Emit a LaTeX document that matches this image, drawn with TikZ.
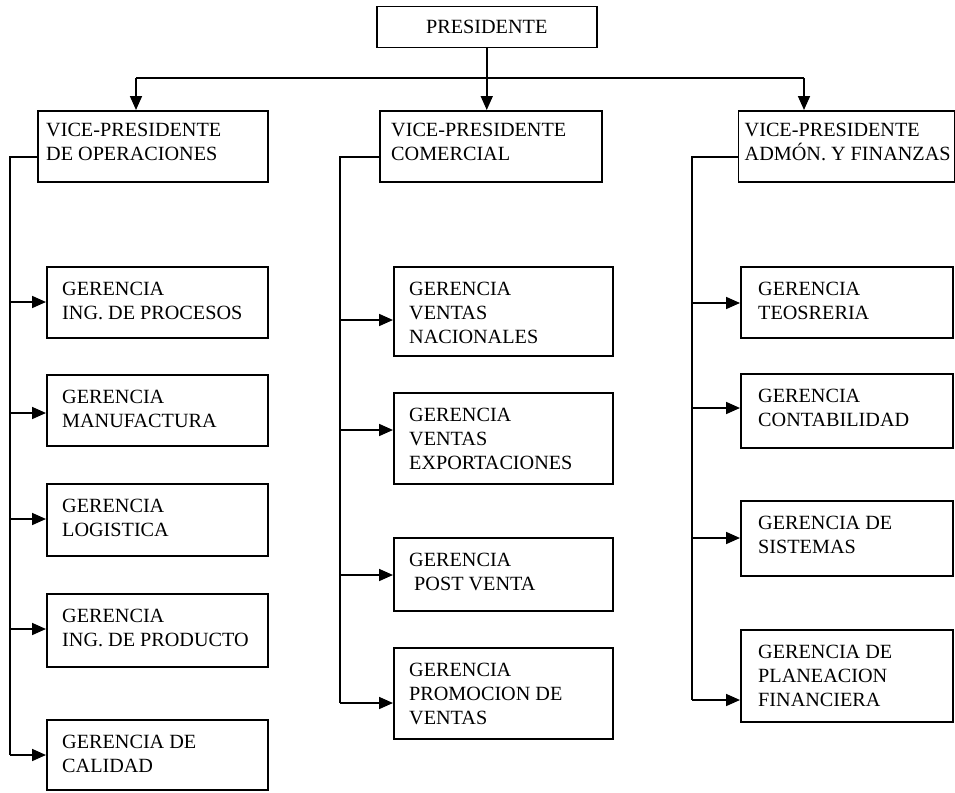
\documentclass[tikz,border=0pt]{standalone}
\usepackage{fontspec}
\setmainfont{Liberation Serif}
\usetikzlibrary{arrows.meta}
\begin{document}
\begin{tikzpicture}[x=1pt,y=-1pt,
  box/.style={draw, line width=1.5pt, inner sep=0pt, anchor=north west},
  txt/.style={anchor=north west, inner sep=0pt, align=left,
    font=\fontsize{20.2}{24}\selectfont},
  link/.style={line width=1.7pt},
  arr/.style={line width=1.7pt, -{Triangle[length=14pt,width=12pt]}}]
\useasboundingbox (0,0) rectangle (955,792);

% President
\node[box, minimum width=220, minimum height=41] (pres) at (376,6) {};
\node[txt, anchor=center] (prest) at (pres.center) {PRESIDENTE};

% Vice-presidents
\node[box, minimum width=230, minimum height=71] (vpo) at (37,110) {};
\node[txt] (vpot) at ([shift={(9,13)}]vpo.north west) {VICE-PRESIDENTE\\DE OPERACIONES};
\node[box, minimum width=222, minimum height=71] (vpc) at (379,110) {};
\node[txt] (vpct) at ([shift={(12,13)}]vpc.north west) {VICE-PRESIDENTE\\COMERCIAL};
\node[box, minimum width=216, minimum height=71] (vpa) at (737.5,110) {};
\node[txt] (vpat) at ([shift={(7,13)}]vpa.north west) {VICE-PRESIDENTE\\ADMÓN. Y FINANZAS};

% President to vice-presidents
\coordinate (bus) at (pres.south |- 0,78);
\coordinate (busl) at (136,78);
\coordinate (busr) at (804,78);
\draw[link] (pres.south) -- (bus);
\draw[link] (busl) -- (busr);
\draw[arr] (busl) -- (busl |- vpo.north);
\draw[arr] (bus) -- (bus |- vpc.north);
\draw[arr] (busr) -- (busr |- vpa.north);

% Operations managers
\node[box, minimum width=221, minimum height=71] (o1) at (46,266) {};
\node[txt] (o1t) at ([shift={(16,16)}]o1.north west) {GERENCIA\\ING. DE PROCESOS};
\node[box, minimum width=221, minimum height=71] (o2) at (46,374) {};
\node[txt] (o2t) at ([shift={(16,16)}]o2.north west) {GERENCIA\\MANUFACTURA};
\node[box, minimum width=221, minimum height=72] (o3) at (46,483) {};
\node[txt] (o3t) at ([shift={(16,16)}]o3.north west) {GERENCIA\\LOGISTICA};
\node[box, minimum width=221, minimum height=73] (o4) at (46,593) {};
\node[txt] (o4t) at ([shift={(16,16)}]o4.north west) {GERENCIA\\ING. DE PRODUCTO};
\node[box, minimum width=221, minimum height=70] (o5) at (46,719) {};
\node[txt] (o5t) at ([shift={(16,16)}]o5.north west) {GERENCIA DE\\CALIDAD};

\coordinate (ot) at (10,157);
\coordinate (ob) at (10,755);
\draw[link] (vpo.west |- ot) -- (ot) -- (ob);
\foreach \n/\y in {o1/302, o2/413, o3/519, o4/629, o5/755}
  \draw[arr] (10,\y) -- (\n.west |- 0,\y);

% Commercial managers
\node[box, minimum width=219, minimum height=89] (c1) at (393,266) {};
\node[txt] (c1t) at ([shift={(16,16)}]c1.north west) {GERENCIA\\VENTAS\\NACIONALES};
\node[box, minimum width=219, minimum height=91] (c2) at (393,392) {};
\node[txt] (c2t) at ([shift={(16,16)}]c2.north west) {GERENCIA\\VENTAS\\EXPORTACIONES};
\node[box, minimum width=219, minimum height=73] (c3) at (393,537) {};
\node[txt] (c3t) at ([shift={(16,16)}]c3.north west) {GERENCIA\\\hspace{5pt}POST VENTA};
\node[box, minimum width=219, minimum height=91] (c4) at (393,647) {};
\node[txt] (c4t) at ([shift={(16,16)}]c4.north west) {GERENCIA\\PROMOCION DE\\VENTAS};

\coordinate (ct) at (340,157);
\coordinate (cb) at (340,703);
\draw[link] (vpc.west |- ct) -- (ct) -- (cb);
\foreach \n/\y in {c1/320, c2/430, c3/575, c4/703}
  \draw[arr] (340,\y) -- (\n.west |- 0,\y);

% Administration and finance managers
\node[box, minimum width=212, minimum height=71] (a1) at (740,266) {};
\node[txt] (a1t) at ([shift={(18,16)}]a1.north west) {GERENCIA\\TEOSRERIA};
\node[box, minimum width=212, minimum height=74] (a2) at (740,373) {};
\node[txt] (a2t) at ([shift={(18,16)}]a2.north west) {GERENCIA\\CONTABILIDAD};
\node[box, minimum width=212, minimum height=75] (a3) at (740,500) {};
\node[txt] (a3t) at ([shift={(18,16)}]a3.north west) {GERENCIA DE\\SISTEMAS};
\node[box, minimum width=212, minimum height=92] (a4) at (740,629) {};
\node[txt] (a4t) at ([shift={(18,16)}]a4.north west) {GERENCIA DE\\PLANEACION\\FINANCIERA};

\coordinate (at) at (692,157);
\coordinate (ab) at (692,700);
\draw[link] (vpa.west |- at) -- (at) -- (ab);
\foreach \n/\y in {a1/303, a2/408, a3/538, a4/700}
  \draw[arr] (692,\y) -- (\n.west |- 0,\y);
\end{tikzpicture}
\end{document}
